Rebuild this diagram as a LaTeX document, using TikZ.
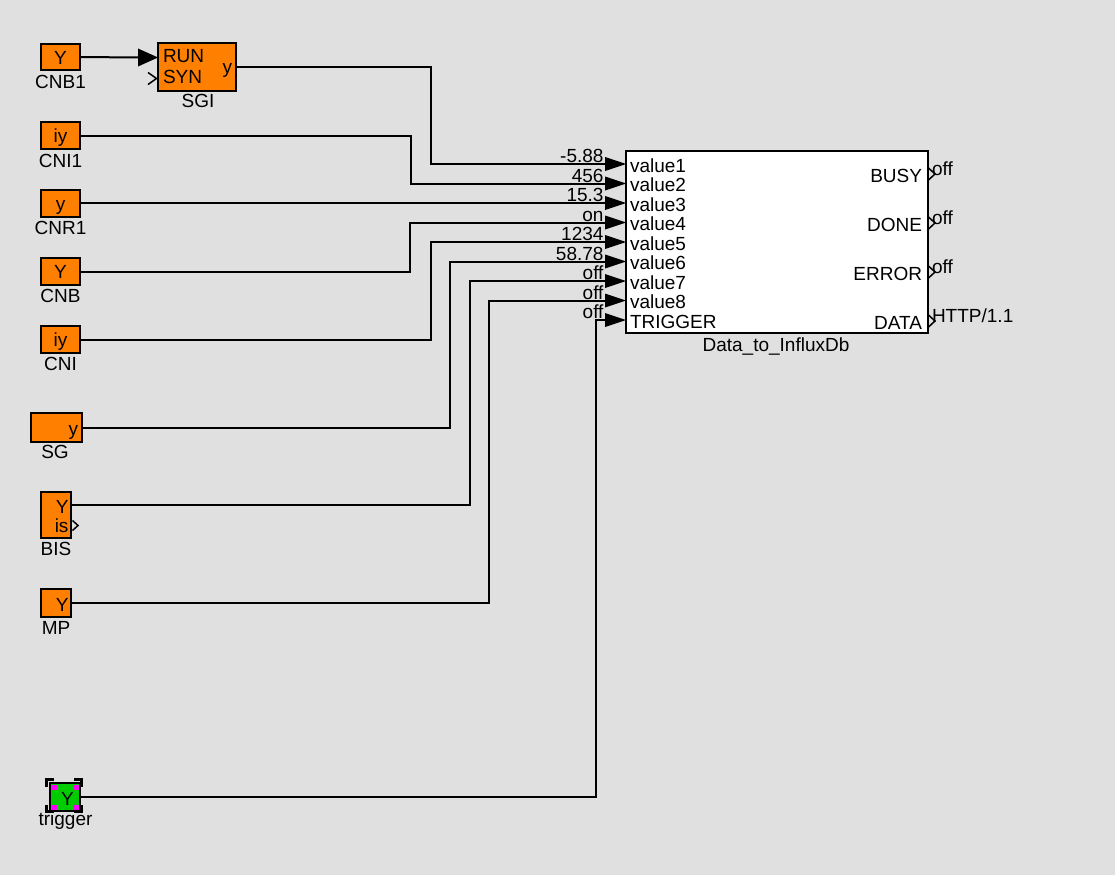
\documentclass[tikz,border=0pt]{standalone}
\usepackage{fontspec}
\setmainfont{Liberation Sans}
\definecolor{bgc}{RGB}{224,224,224}
\definecolor{org}{RGB}{255,128,0}
\definecolor{grn}{RGB}{0,204,0}
\definecolor{mag}{RGB}{255,0,255}
\begin{document}
\begin{tikzpicture}[x=1pt,y=-1pt,
  every node/.style={font=\fontsize{19}{21}\selectfont, inner sep=0pt, outer sep=0pt},
  blk/.style={draw=black, line width=2pt, fill=org, text height=14pt, text depth=0pt},
  lbl/.style={anchor=base},
  wire/.style={line width=2pt, black},
  chev/.style={line width=1.5pt, black},
  selmark/.style={line width=3pt, black},
  pinlbl/.style={anchor=base east}]
\fill[bgc] (0,0) rectangle (1115,875);
\useasboundingbox (0,0) rectangle (1115,875);

% ---- left blocks
\node[blk, minimum width=39pt, minimum height=26pt] (cnb1) at (60.5,57) {Y};
\node[lbl] (cnb1l) at (60.5,88) {CNB1};

\node[blk, minimum width=78pt, minimum height=48pt] (sgi) at (196.7,67) {};
\node[anchor=base west] (sgirun) at (163,63) {RUN};
\node[anchor=base west] (sgisyn) at (163,83) {SYN};
\node[anchor=base east] (sgiy) at (232,73) {y};
\node[lbl] (sgil) at (198,107.5) {SGI};
\coordinate (sgiin) at (138,57.5);

\node[blk, minimum width=39pt, minimum height=27pt] (cni1) at (60.5,135.5) {iy};
\node[lbl] (cni1l) at (60.5,167) {CNI1};
\node[blk, minimum width=39pt, minimum height=27pt] (cnr1) at (60.5,203) {y};
\node[lbl] (cnr1l) at (60.5,234) {CNR1};
\node[blk, minimum width=39pt, minimum height=27pt] (cnb) at (60.5,271.5) {Y};
\node[lbl] (cnbl) at (60.5,302) {CNB};
\node[blk, minimum width=39pt, minimum height=27pt] (cni) at (60.5,339.5) {iy};
\node[lbl] (cnil) at (60.5,370) {CNI};

\node[blk, minimum width=51pt, minimum height=29pt] (sg) at (56.2,427.5) {};
\node[anchor=base east] (sgy) at (78,435) {y};
\node[lbl] (sgl) at (55,458) {SG};

\node[blk, minimum width=30.3pt, minimum height=46.3pt] (bis) at (55.9,514.9) {};
\node[anchor=base east] (bisy) at (68.5,513) {Y};
\node[anchor=base east] (bisis) at (68.5,532) {is};
\node[lbl] (bisl) at (56,555.5) {BIS};
\coordinate (biso) at (71,505);

\node[blk, minimum width=30.3pt, minimum height=27.7pt] (mp) at (55.9,602.9) {};
\node[anchor=base east] (mpy) at (68.5,611) {Y};
\node[lbl] (mpl) at (56,634) {MP};

\node[blk, fill=grn, minimum width=30pt, minimum height=28pt] (trig) at (65,797) {};
\node[anchor=base] (trigy) at (67.5,805) {Y};
\node[lbl] (trigl) at (65.5,825) {trigger};
% selection marks
\draw[selmark] (46.5,786.5) -- (46.5,779.5) -- (53.5,779.5);
\draw[selmark] (74,779.5) -- (81,779.5) -- (81,786.5);
\draw[selmark] (46.5,804.5) -- (46.5,811) -- (53.5,811);
\draw[selmark] (74,811) -- (81,811) -- (81,804.5);
\fill[mag] (51.5,785) rectangle (56.5,789.5);
\fill[mag] (73.5,785) rectangle (78.5,789.5);
\fill[mag] (51.5,805) rectangle (56.5,809.5);
\fill[mag] (73.5,805) rectangle (78.5,809.5);

% ---- main block
\node[draw=black, line width=2pt, fill=white, minimum width=302pt, minimum height=182pt] (db) at (777,242.3) {};
\node[lbl] (dbl) at (776,351) {Data\_to\_InfluxDb};

\foreach \i/\yy/\nm/\val in {1/164/value1/-5.88, 2/183.5/value2/456, 3/203/value3/15.3,
  4/222.5/value4/on, 5/242/value5/1234, 6/261.5/value6/58.78, 7/281/value7/off,
  8/300.5/value8/off, 9/320/TRIGGER/off}{
  \coordinate (p\i) at (605,\yy);
  \fill[black] (605,\yy-7) -- (626,\yy) -- (605,\yy+7) -- cycle;
  \node[anchor=base west] (in\i) at (630,\yy+8) {\nm};
  \node[pinlbl] (v\i) at (603.5,\yy-1.5) {\val};
}

\foreach \i/\cc/\nm in {1/174/BUSY, 2/223/DONE, 3/272/ERROR, 4/321/DATA}{
  \coordinate (o\i) at (928,\cc);
  \draw[chev] (928.5,\cc-6) -- (935,\cc) -- (928.5,\cc+6);
  \node[anchor=base east] (out\i) at (922,\cc+8) {\nm};
}
\node[anchor=base west] (ov1) at (932,175) {off};
\node[anchor=base west] (ov2) at (932,224) {off};
\node[anchor=base west] (ov3) at (932,273) {off};
\node[anchor=base west] (ov4) at (932,322) {HTTP/1.1};

% ---- SGI inputs
\fill[black] (138,48.5) -- (158,57.5) -- (138,66.5) -- cycle;
\draw[chev] (148,72.5) -- (156.5,78.5) -- (148,84.5);
\draw[wire] (cnb1.east) -- (sgiin);
% BIS output chevron
\draw[chev] (72.5,520.5) -- (78,525.5) -- (72.5,530.5);

% ---- wires
\coordinate (j1) at (431,164);
\coordinate (j2) at (411,183.5);
\coordinate (j4) at (410,222.5);
\coordinate (j5) at (431,242);
\coordinate (j6) at (450,261.5);
\coordinate (j7) at (470,281);
\coordinate (j8) at (489,300.5);
\coordinate (j9) at (596,320);
\draw[wire] (sgi.east) -| (j1) -- (p1);
\draw[wire] (cni1.east) -| (j2) -- (p2);
\draw[wire] (cnr1.east) -- (p3);
\draw[wire] (cnb.east) -| (j4) -- (p4);
\draw[wire] (cni.east) -| (j5) -- (p5);
\draw[wire] (sg.east) -| (j6) -- (p6);
\draw[wire] (biso) -| (j7) -- (p7);
\draw[wire] (mp.east) -| (j8) -- (p8);
\draw[wire] (trig.east) -| (j9) -- (p9);
\end{tikzpicture}
\end{document}
